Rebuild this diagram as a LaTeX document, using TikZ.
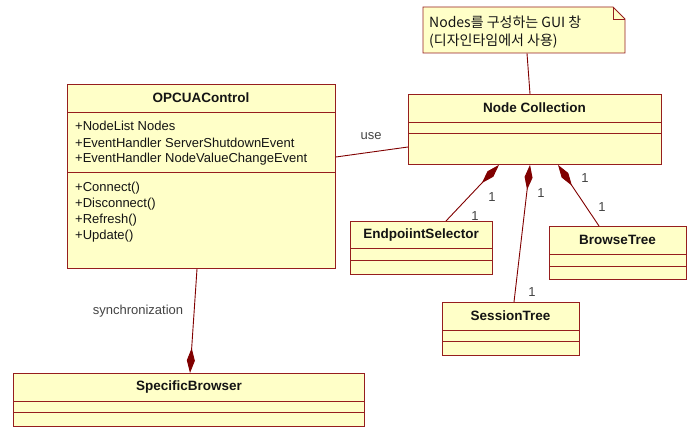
\documentclass[tikz,border=0pt]{standalone}
\usepackage{fontspec}
\setmainfont{Liberation Sans}
\newfontfamily\krfont{Noto Sans CJK KR}
\usetikzlibrary{arrows.meta,calc}
\definecolor{boxfill}{RGB}{255,255,200}
\definecolor{boxline}{RGB}{150,30,30}
\definecolor{conline}{RGB}{128,0,0}
\definecolor{txt}{RGB}{20,20,20}
\tikzset{
  classbox/.style={draw=boxline, fill=boxfill, line width=0.9pt, inner sep=0pt, anchor=north west},
  divider/.style={draw=boxline, line width=0.9pt},
  title/.style={font=\fontsize{13.5}{15}\selectfont\bfseries, text=txt, inner sep=0pt},
  member/.style={font=\fontsize{13}{15}\selectfont, text=txt, inner sep=0pt, anchor=west},
  lbl/.style={font=\fontsize{13}{15}\selectfont, text=txt!80, inner sep=0pt},
  notetext/.style={font=\krfont\fontsize{14}{16}\selectfont, text=txt, inner sep=0pt, anchor=west},
  conn/.style={draw=conline, line width=0.9pt},
  comp/.style={conn, -{Diamond[length=25pt,width=8pt,fill=conline]}},
}
\begin{document}
\begin{tikzpicture}[x=1pt,y=-1pt]
\useasboundingbox (0,0) rectangle (696,427);

% OPCUAControl
\node[classbox, minimum width=268pt, minimum height=184pt] (oc) at (67,84) {};
\draw[divider] (67,112) -- (335,112);
\draw[divider] (67,172) -- (335,172);
\node[title] (octitle) at (201,98) {OPCUAControl};
\node[member] (oca1) at (75,126) {+NodeList Nodes};
\node[member] (oca2) at (75,142.5) {+EventHandler ServerShutdownEvent};
\node[member] (oca3) at (75,159) {+EventHandler NodeValueChangeEvent};
\node[member] (ocm1) at (75,188) {+Connect()};
\node[member] (ocm2) at (75,204) {+Disconnect()};
\node[member] (ocm3) at (75,220) {+Refresh()};
\node[member] (ocm4) at (75,236) {+Update()};

% Node Collection
\node[classbox, minimum width=253pt, minimum height=70pt] (nc) at (408,94) {};
\draw[divider] (408,122) -- (661,122);
\draw[divider] (408,133) -- (661,133);
\node[title] (nctitle) at (534.5,108) {Node Collection};

% Note
\node[inner sep=0pt, minimum width=202pt, minimum height=46pt, anchor=north west] (note) at (423,7) {};
\filldraw[draw=boxline, fill=boxfill, line width=0.9pt] (423,7) -- (613,7) -- (625,19) -- (625,53) -- (423,53) -- cycle;
\draw[divider] (613,7) -- (613,19) -- (625,19);
\node[notetext] (note1) at (429,22) {Nodes를 구성하는 GUI 창};
\node[notetext] (note2) at (429,41) {(디자인타임에서 사용)};

% EndpoiintSelector
\node[classbox, minimum width=142pt, minimum height=53pt] (es) at (350,221) {};
\draw[divider] (350,248) -- (492,248);
\draw[divider] (350,260) -- (492,260);
\node[title] (estitle) at (421,235) {EndpoiintSelector};

% BrowseTree
\node[classbox, minimum width=137pt, minimum height=53pt] (bt) at (549,226) {};
\draw[divider] (549,254) -- (686,254);
\draw[divider] (549,266) -- (686,266);
\node[title] (bttitle) at (617.5,240) {BrowseTree};

% SessionTree
\node[classbox, minimum width=137pt, minimum height=53pt] (st) at (442,302) {};
\draw[divider] (442,330) -- (579,330);
\draw[divider] (442,341) -- (579,341);
\node[title] (sttitle) at (510.5,316) {SessionTree};

% SpecificBrowser
\node[classbox, minimum width=351pt, minimum height=53pt] (sb) at (13,373) {};
\draw[divider] (13,401) -- (364,401);
\draw[divider] (13,412) -- (364,412);
\node[title] (sbtitle) at (189,387) {SpecificBrowser};

% connectors
\draw[conn] ($(note.south west)+(104,0)$) -- ($(nc.north west)+(122,0)$);
\draw[conn] ($(oc.north east)+(0,73)$) -- ($(nc.north west)+(0,53)$);
\node[lbl] (use) at (371,136) {use};

\draw[comp] ($(oc.south west)+(130,0)$) -- ($(sb.north west)+(177,0)$);
\node[lbl] (sync) at (138,311) {synchronization};

\draw[comp] ($(es.north west)+(96,0)$) -- ($(nc.south west)+(91,0)$);
\draw[comp] ($(st.north west)+(72,0)$) -- ($(nc.south west)+(122,0)$);
\draw[comp] ($(bt.north west)+(50,0)$) -- ($(nc.south west)+(150,0)$);

\node[lbl] (m1a) at (492,197) {1};
\node[lbl] (m1b) at (475,216) {1};
\node[lbl] (m2a) at (541,193) {1};
\node[lbl] (m2b) at (532,292) {1};
\node[lbl] (m3a) at (585,178) {1};
\node[lbl] (m3b) at (602,207) {1};
\end{tikzpicture}
\end{document}
